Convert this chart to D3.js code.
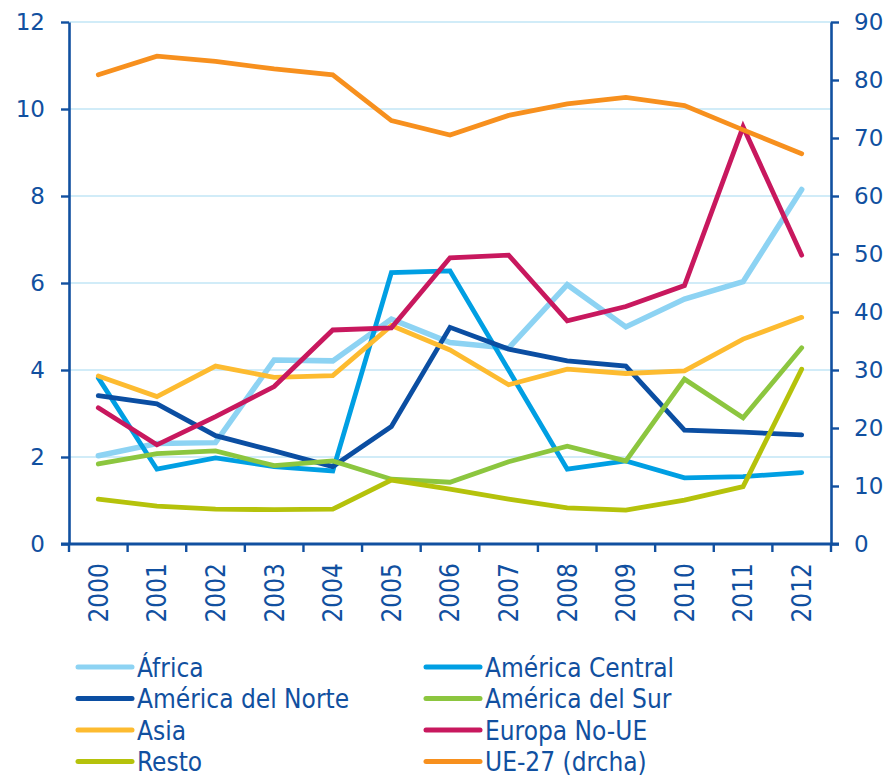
<!DOCTYPE html>
<html>
<head>
<meta charset="utf-8">
<script src="https://cdn.jsdelivr.net/npm/d3@7/dist/d3.min.js"></script>
<style>
  html, body { margin: 0; padding: 0; background: #fff; }
  svg { display: block; }
</style>
</head>
<body>
<svg id="chart" width="889" height="778"></svg>
<script>
const years = ["2000","2001","2002","2003","2004","2005","2006","2007","2008","2009","2010","2011","2012"];
const leftTicks = [0, 2, 4, 6, 8, 10, 12];
const rightTicks = [0, 10, 20, 30, 40, 50, 60, 70, 80, 90];

const seriesNames = ["África", "América Central", "América del Norte", "América del Sur", "Asia", "Europa No-UE", "Resto", "UE-27 (drcha)"];
const seriesColors = ["#8dd3f3", "#009fe3", "#0b4ea2", "#8cc63f", "#fdbb30", "#c8185e", "#b5c20b", "#f7901e"];

const africa        = [2.03, 2.31, 2.33, 4.23, 4.21, 5.17, 4.63, 4.50, 5.96, 4.99, 5.63, 6.03, 8.15];
const americaCentral= [3.82, 1.72, 1.98, 1.78, 1.68, 6.24, 6.28, 4.00, 1.72, 1.91, 1.52, 1.55, 1.64];
const americaNorte  = [3.41, 3.22, 2.49, 2.14, 1.78, 2.70, 4.98, 4.48, 4.21, 4.09, 2.62, 2.57, 2.51];
const americaSur    = [1.84, 2.08, 2.14, 1.80, 1.91, 1.49, 1.42, 1.89, 2.25, 1.91, 3.79, 2.90, 4.51];
const asia          = [3.86, 3.39, 4.09, 3.83, 3.87, 5.02, 4.46, 3.66, 4.02, 3.92, 3.98, 4.71, 5.21];
const europaNoUE    = [3.13, 2.28, 2.93, 3.62, 4.92, 4.97, 6.58, 6.64, 5.13, 5.46, 5.94, 9.59, 6.64];
const resto         = [1.03, 0.87, 0.80, 0.79, 0.80, 1.47, 1.26, 1.03, 0.83, 0.78, 1.01, 1.32, 4.02];
const ue27          = [80.9, 84.1, 83.2, 81.9, 80.9, 73.0, 70.5, 73.9, 75.9, 77.0, 75.6, 71.4, 67.3];

const seriesValues = [africa, americaCentral, americaNorte, americaSur, asia, europaNoUE, resto, ue27];
const seriesAxis = ["L","L","L","L","L","L","L","R"];

const axisColor = "#1150a0";
const textColor = "#1150a0";
const gridColor = "#c2e6f6";

const svg = d3.select("#chart");

const plotLeft = 69, plotRight = 831, plotTop = 22, plotBottom = 544;
const x = d3.scaleBand().domain(years).range([plotLeft, plotRight]).padding(0);
const yL = d3.scaleLinear().domain([0, 12]).range([plotBottom, plotTop]);
const yR = d3.scaleLinear().domain([0, 90]).range([plotBottom, plotTop]);

// gridlines
svg.append("g")
  .selectAll("line")
  .data(leftTicks.filter(d => d > 0))
  .join("line")
  .attr("x1", plotLeft).attr("x2", plotRight)
  .attr("y1", d => yL(d)).attr("y2", d => yL(d))
  .attr("stroke", gridColor).attr("stroke-width", 1.5);

// series lines
const lineGen = (scale) => d3.line()
  .x((d, i) => x(years[i]) + x.bandwidth() / 2)
  .y(d => scale(d));

const gLines = svg.append("g");
seriesValues.forEach((vals, k) => {
  gLines.append("path")
    .datum(vals)
    .attr("d", lineGen(seriesAxis[k] === "R" ? yR : yL))
    .attr("fill", "none")
    .attr("stroke", seriesColors[k])
    .attr("stroke-width", k === 0 ? 5.5 : 4.8)
    .attr("stroke-linecap", "round")
    .attr("stroke-linejoin", "miter");
});

// left axis
const axL = svg.append("g").attr("transform", `translate(${plotLeft},0)`)
  .call(d3.axisLeft(yL).tickValues(leftTicks).tickSize(8).tickPadding(16).tickSizeOuter(0));
// right axis
const axR = svg.append("g").attr("transform", `translate(${plotRight},0)`)
  .call(d3.axisRight(yR).tickValues(rightTicks).tickSize(8).tickPadding(15).tickSizeOuter(0));

[axL, axR].forEach(ax => {
  ax.select(".domain").attr("stroke", axisColor).attr("stroke-width", 2.6);
  ax.selectAll(".tick line").attr("stroke", axisColor).attr("stroke-width", 2.4);
  ax.selectAll(".tick text")
    .attr("fill", textColor)
    .style("font-family", "'DejaVu Sans', Verdana, sans-serif")
    .style("font-size", "23px");
});

// bottom axis: labels at band centers, ticks at band boundaries
const axB = svg.append("g").attr("transform", `translate(0,${plotBottom})`)
  .call(d3.axisBottom(x).tickSize(0).tickPadding(0).tickSizeOuter(0));
axB.select(".domain").remove();
axB.selectAll(".tick text")
  .attr("fill", textColor)
  .style("font-family", "'DejaVu Sans Condensed', 'DejaVu Sans', sans-serif")
  .style("font-size", "26px")
  .attr("text-anchor", "end")
  .attr("y", 0)
  .attr("dy", "0.36em")
  .attr("transform", "translate(0,19) rotate(-90)");

const boundaries = years.map(y => x(y)).concat([x.range()[1]]);
svg.append("g")
  .selectAll("line")
  .data(boundaries)
  .join("line")
  .attr("x1", d => d).attr("x2", d => d)
  .attr("y1", plotBottom).attr("y2", plotBottom + 8)
  .attr("stroke", axisColor).attr("stroke-width", 2.4);
svg.append("line")
  .attr("x1", plotLeft - 8).attr("x2", plotRight + 8)
  .attr("y1", plotBottom).attr("y2", plotBottom)
  .attr("stroke", axisColor).attr("stroke-width", 2.8);

// legend
const legendCols = [78, 426];
const legendRowY = [667, 698.5, 730, 761.5];
const legend = svg.append("g");
seriesNames.forEach((name, k) => {
  const col = k % 2, row = Math.floor(k / 2);
  const lx = legendCols[col], ly = legendRowY[row];
  legend.append("line")
    .attr("x1", lx).attr("x2", lx + 54)
    .attr("y1", ly).attr("y2", ly)
    .attr("stroke", seriesColors[k])
    .attr("stroke-width", 5)
    .attr("stroke-linecap", "round");
  legend.append("text")
    .attr("x", lx + 59).attr("y", ly + 9.5)
    .attr("fill", textColor)
    .style("font-family", "'DejaVu Sans Condensed', 'DejaVu Sans', sans-serif")
    .style("font-size", "26px")
    .text(name);
});
</script>
</body>
</html>
